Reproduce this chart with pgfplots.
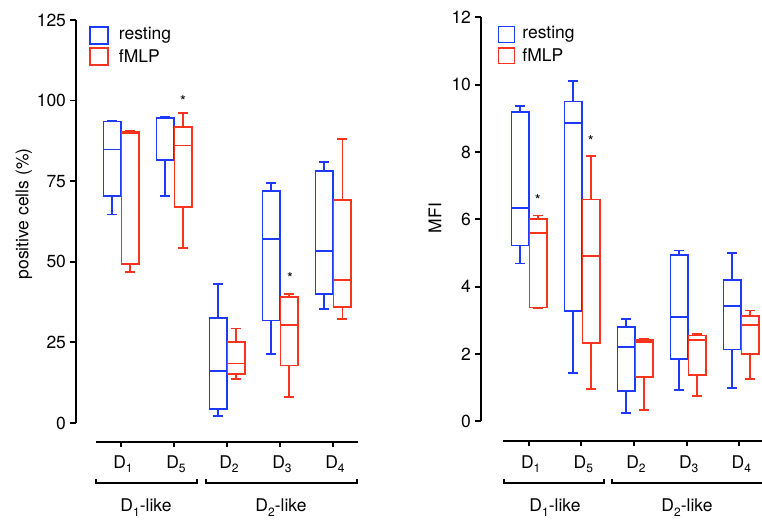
\documentclass[border=0pt]{standalone}
\usepackage{fontspec}
\setmainfont{TeX Gyre Heros}
\usepackage{pgfplots}
\pgfplotsset{compat=1.18}
\usepgfplotslibrary{statistics}
\definecolor{cblue}{RGB}{28,58,248}
\definecolor{cred}{RGB}{248,52,30}
\newcommand\bx[7]{\addplot[#1, line width=1.7pt, solid, boxplot/draw direction=y, boxplot/every median/.style={line width=1.7pt}, boxplot prepared={lower whisker=#3, lower quartile=#4, median=#5, upper quartile=#6, upper whisker=#7, draw position=#2, box extend=0.33, whisker extend=0.19}] coordinates {};}
\newcommand\sub[1]{\raisebox{-0.28em}{\fontsize{12}{12}\selectfont #1}}
\newcommand\fs{\fontsize{17.5}{19}\selectfont}
\pgfplotsset{
  panel/.style={
    scale only axis, clip=false,
    axis y line*=left, axis x line=none,
    ymin=0, xtick=\empty,
    tick align=outside, major tick length=6pt,
    y axis line style={line width=1.8pt},
    ytick style={line width=1.8pt, black},
    /pgf/number format/assume math mode=true,
    yticklabel style={font=\fs, xshift=-0.5pt},
  }
}
\begin{document}
\begin{tikzpicture}[x=1pt,y=1pt]
\useasboundingbox (0,0) rectangle (762,519);
% ---------- left panel ----------
\begin{axis}[panel, at={(76pt,96pt)}, anchor=south west,
  width=282pt, height=403pt, xmin=-0.849, xmax=4.47, ymax=125,
  ytick={0,25,50,75,100,125}]
\bx{cblue}{-0.165}{64.7}{70.5}{84.8}{93.5}{93.8}
\bx{cred}{0.175}{46.8}{49.4}{89.9}{90.2}{90.5}
\bx{cblue}{0.835}{70.3}{81.6}{94.5}{94.7}{94.9}
\bx{cred}{1.175}{54.3}{67.1}{86.1}{91.8}{96.1}
\bx{cblue}{1.835}{2.2}{4.3}{16.1}{32.6}{43.1}
\bx{cred}{2.175}{13.7}{15.2}{18.5}{25.1}{29.3}
\bx{cblue}{2.835}{21.5}{31.8}{57.0}{72.0}{74.4}
\bx{cred}{3.175}{8.0}{17.8}{30.5}{39.0}{40.1}
\bx{cblue}{3.835}{35.3}{40.1}{53.3}{78.1}{81.0}
\bx{cred}{4.175}{32.2}{36.0}{44.3}{69.2}{88.0}
\end{axis}
\node[rotate=90, font=\fs] at (24,305) {positive cells (\%)};
% ---------- right panel ----------
\begin{axis}[panel, at={(481pt,97.7pt)}, anchor=south west,
  width=281pt, height=404pt, xmin=-0.906, xmax=4.4, ymax=12,
  ytick={0,2,4,6,8,10,12}]
\bx{cblue}{-0.165}{4.69}{5.22}{6.34}{9.18}{9.36}
\bx{cred}{0.175}{3.36}{3.38}{5.59}{6.01}{6.11}
\bx{cblue}{0.835}{1.44}{3.28}{8.87}{9.50}{10.1}
\bx{cred}{1.175}{0.96}{2.32}{4.92}{6.59}{7.89}
\bx{cblue}{1.835}{0.25}{0.91}{2.21}{2.80}{3.04}
\bx{cred}{2.175}{0.34}{1.31}{2.35}{2.41}{2.46}
\bx{cblue}{2.835}{0.92}{1.86}{3.09}{4.94}{5.07}
\bx{cred}{3.175}{0.75}{1.37}{2.41}{2.55}{2.60}
\bx{cblue}{3.835}{0.99}{2.13}{3.42}{4.20}{4.99}
\bx{cred}{4.175}{1.25}{2.00}{2.85}{3.13}{3.29}
\end{axis}
\node[rotate=90, font=\fs] at (435,301) {MFI};
% ---------- x axes, brackets, labels ----------
\begin{scope}[line width=1.8pt, font=\fs]
\draw (96,77) -- (358,77);
\foreach \x/\s in {121/1,174/5,227/2,280/3,333/4}{
  \draw (\x,77) -- (\x,72);
  \node[anchor=base] at (\x+2,51) {D\sub{\s}};
}
\draw (96,40) -- (96,36) -- (197,36) -- (197,40);
\draw (206,40) -- (206,36) -- (357,36) -- (357,40);
\node[anchor=base] at (146,7.5) {D\sub{1}-like};
\node[anchor=base] at (281,7.5) {D\sub{2}-like};
\draw (503,78) -- (762,78);
\foreach \x/\s in {528.7/1,581.3/5,634/2,686.7/3,739.3/4}{
  \draw (\x,78) -- (\x,73);
  \node[anchor=base] at (\x+2,51) {D\sub{\s}};
}
\draw (504,40) -- (504,36) -- (604,36) -- (604,40);
\draw (612,40) -- (612,36) -- (762,36);
\node[anchor=base] at (555,7.5) {D\sub{1}-like};
\node[anchor=base] at (687,7.5) {D\sub{2}-like};
% legends
\draw[cblue, line width=1.6pt] (90,475) rectangle (108,492);
\draw[cred, line width=1.6pt] (90,454) rectangle (108,471);
\node[anchor=west, inner sep=0pt] at (118,483.5) {resting};
\node[anchor=west, inner sep=0pt] at (118,462.5) {fMLP};
\draw[cblue, line width=1.6pt] (498.5,476.5) rectangle (514.5,492.5);
\draw[cred, line width=1.6pt] (498.5,455.5) rectangle (514.5,471);
\node[anchor=west, inner sep=0pt] at (521.5,484.5) {resting};
\node[anchor=west, inner sep=0pt] at (521.5,463.5) {fMLP};
\end{scope}
% stars
\begin{scope}[font=\fontsize{15}{16}\selectfont]
\node[anchor=base] at (183,412) {*};
\node[anchor=base] at (290,235) {*};
\node[anchor=base] at (537.7,313) {*};
\node[anchor=base] at (590.7,372) {*};
\end{scope}
\end{tikzpicture}
\end{document}
